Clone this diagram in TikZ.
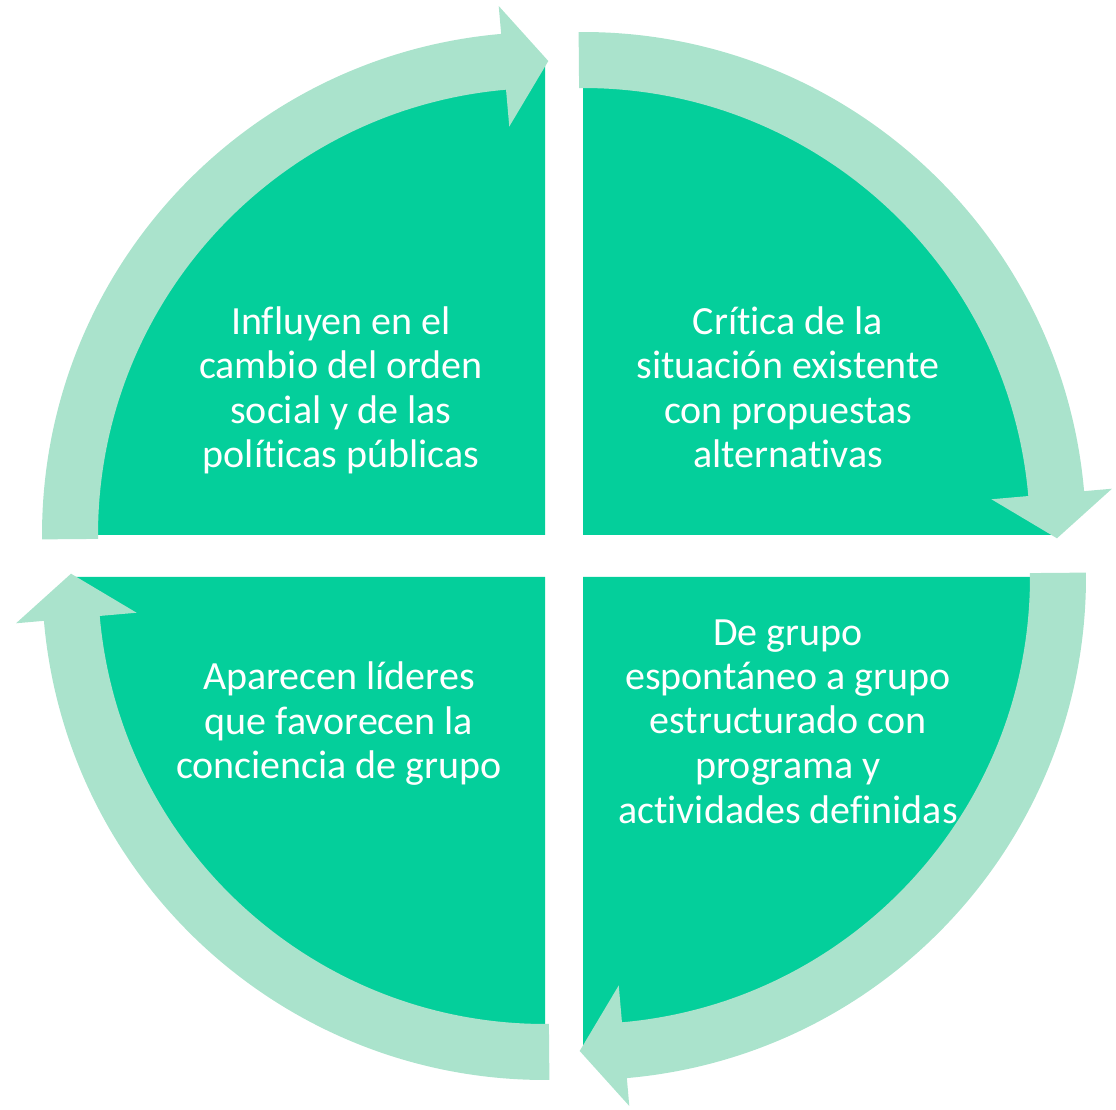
\documentclass[tikz,border=0pt]{standalone}
\usepackage{fontspec}
\setmainfont{Carlito}[Ligatures=NoCommon]
\definecolor{sectorgreen}{RGB}{4,207,155}
\definecolor{arrowgreen}{RGB}{170,227,204}
\tikzset{
  sector/.style={fill=sectorgreen},
  arrowfill/.style={fill=arrowgreen},
  quadtext/.style={text=white, align=center, inner sep=0pt, anchor=base,
    font={\fontsize{40}{44.5}\selectfont}}
}
\newcommand{\cyclearrow}[2]{%
  \begin{scope}[shift={#1}]
    \pgfmathsetmacro\sa{#2+0.5}
    \pgfmathsetmacro\ba{#2-85}
    \pgfmathsetmacro\ta{#2-90.4}
    \fill[arrowfill] (\sa:503) arc[start angle=\sa, end angle=\ba, radius=503]
      -- (\ba:531) -- (\ta:474) -- (\ba:410) -- (\ba:447)
      arc[start angle=\ba, end angle=\sa, radius=447] -- cycle;
  \end{scope}}
\begin{document}
\begin{tikzpicture}[x=1pt, y=1pt]
\useasboundingbox (0,0) rectangle (1116,1109);
% quadrant corners
\coordinate (ctl) at (545,574);
\coordinate (ctr) at (583,574);
\coordinate (cbl) at (545,532);
\coordinate (cbr) at (583,532);
% sectors
\fill[sector] (ctl) -- ++(180:475) arc[start angle=180, end angle=90, radius=475] -- cycle;
\fill[sector] (ctr) -- ++(90:475) arc[start angle=90, end angle=0, radius=475] -- cycle;
\fill[sector] (cbr) -- ++(0:475) arc[start angle=0, end angle=-90, radius=475] -- cycle;
\fill[sector] (cbl) -- ++(270:475) arc[start angle=270, end angle=180, radius=475] -- cycle;
% texts (anchor = baseline of last line)
\node[quadtext] (ttl) at (341,641) {Influyen en el\\cambio del orden\\social y de las\\políticas públicas};
\node[quadtext] (ttr) at (788,641) {Crítica de la\\situación existente\\con propuestas\\alternativas};
\node[quadtext] (tbl) at (339,330) {Aparecen líderes\\que favorecen la\\conciencia de grupo};
\node[quadtext] (tbr) at (788,286) {De grupo\\espontáneo a grupo\\estructurado con\\programa y\\actividades definidas};
% arrows
\cyclearrow{(545,574)}{180}
\cyclearrow{(583,574)}{90}
\cyclearrow{(583,532)}{0}
\cyclearrow{(545,532)}{270}
\end{tikzpicture}
\end{document}
